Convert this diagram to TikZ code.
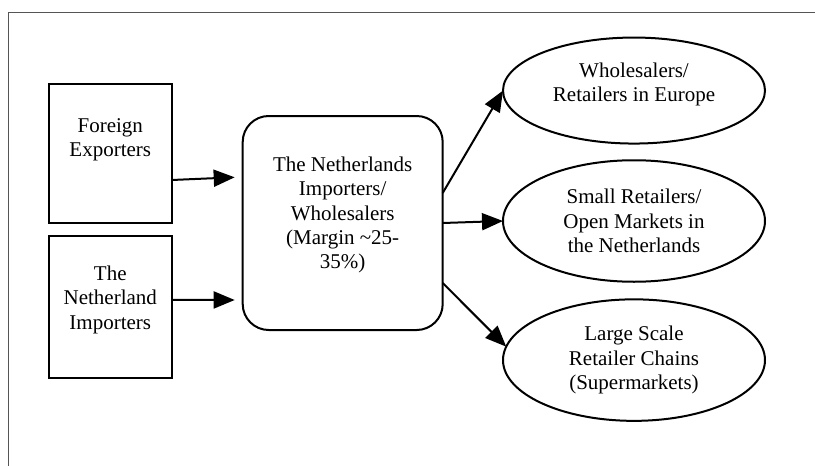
\documentclass[tikz,border=0pt]{standalone}
\usepackage{fontspec}
\setmainfont{Liberation Serif}
\usetikzlibrary{arrows.meta, positioning, shapes.geometric, calc}
\newcommand{\chartfont}{\fontsize{21}{24.2}\selectfont}
\definecolor{framegray}{RGB}{85,85,85}

\begin{document}
\begin{tikzpicture}[x=1pt, y=-1pt,
	srcbox/.style={draw, line width=2pt, rectangle, minimum width=122.7pt, inner sep=0pt, outer sep=0pt},
	midbox/.style={draw, line width=2pt, rectangle, rounded corners=26pt, minimum width=200pt, minimum height=214pt, inner sep=0pt, outer sep=0pt},
	market/.style={draw, line width=2pt, ellipse, minimum width=262pt, minimum height=121.5pt, inner sep=0pt, outer sep=0pt},
	txt/.style={align=center, font=\chartfont, inner sep=0pt},
	flow/.style={line width=2pt, -{Triangle[length=21pt, width=17pt]}}]
		
		\useasboundingbox (0,0) rectangle (815,466);
		% page frame, cut at the right and bottom
		\draw[framegray, line width=1.3pt] (8.7,470) |- (820,12.7);
		
		\node[srcbox, minimum height=138.7pt, label={[txt, yshift=14pt]center:Foreign\\Exporters}] (fe) at (110.3,153.4) {};
		\node[srcbox, minimum height=141.7pt, below=13.3pt of fe, label={[txt, yshift=7pt]center:The\\Netherland\\Importers}] (ni) {};
		\node[midbox, label={[txt, yshift=8pt]center:The Netherlands\\Importers/\\Wholesalers\\(Margin \textasciitilde25-\\35\%)}] (nl) at (342.7,223) {};
		
		\node[market, label={[txt]center:Small Retailers/\\Open Markets in\\the Netherlands}] (e2) at (634,221) {};
		\node[market, minimum height=106pt, above=16.7pt of e2, label={[txt, yshift=6pt]center:Wholesalers/\\Retailers in Europe}] (e1) {};
		\node[market, below=17.6pt of e2, label={[txt]center:Large Scale\\Retailer Chains\\(Supermarkets)}] (e3) {};
		
		\draw[flow] ($(fe.east)+(0,26.6)$) -- ($(nl.west)+(-8,-45.7)$);
		\draw[flow] ($(ni.east)+(0,-7)$) -- ($(nl.west)+(-8,77)$);
		\draw[flow] ($(nl.east)+(0,-30)$) -- (e1.west);
		\draw[flow] (nl.east) -- (e2.west);
		\draw[flow] ($(nl.east)+(0,60)$) -- (e3.174);
		\end{tikzpicture}
\end{document}
